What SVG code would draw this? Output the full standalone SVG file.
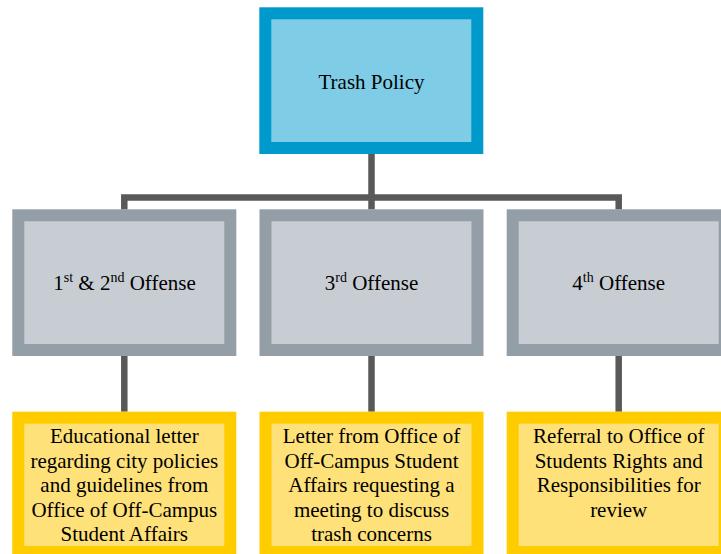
<svg xmlns="http://www.w3.org/2000/svg" width="721" height="554" viewBox="0 0 721 554">
<style>
  .t { font-size: 21px; fill: #000; text-anchor: middle; }
  .conn { fill: none; stroke: #595959; stroke-width: 6.5; stroke-linejoin: miter; }
  .top { fill: #7FCCE6; stroke: #0099CC; stroke-width: 12; }
  .mid { fill: #C8CDD4; stroke: #949EA7; stroke-width: 12; }
  .bot { fill: #FFE17A; stroke: #FFCC00; stroke-width: 12; }
  .sup { font-size: 14px; }
</style>
<rect width="721" height="554" fill="#fff"/>
<g id="connectors">
  <path class="conn" d="M371.5,154 V209.5"/>
  <path class="conn" d="M124.3,209.5 V197.5 H618.7 V209.5"/>
  <path class="conn" d="M124.3,356 V411.7"/>
  <path class="conn" d="M371.5,356 V411.7"/>
  <path class="conn" d="M618.7,356 V411.7"/>
</g>
<g id="trash-policy">
  <rect class="top" x="265.3" y="13.3" width="212" height="134.7"/>
  <text class="t" font-family="Liberation Serif" x="371.5" y="89">Trash Policy</text>
</g>
<g id="offense-1-2">
  <rect class="mid" x="18.3" y="215.3" width="212" height="134.7"/>
  <text class="t" font-family="Liberation Serif" x="124.5" y="290">1<tspan class="sup" dy="-8">st</tspan><tspan dy="8"> &amp; 2</tspan><tspan class="sup" dy="-8">nd</tspan><tspan dy="8"> Offense</tspan></text>
</g>
<g id="offense-3">
  <rect class="mid" x="265.5" y="215.3" width="212" height="134.7"/>
  <text class="t" font-family="Liberation Serif" x="371.5" y="290">3<tspan class="sup" dy="-8">rd</tspan><tspan dy="8"> Offense</tspan></text>
</g>
<g id="offense-4">
  <rect class="mid" x="512.7" y="215.3" width="212" height="134.7"/>
  <text class="t" font-family="Liberation Serif" x="618.7" y="290">4<tspan class="sup" dy="-8">th</tspan><tspan dy="8"> Offense</tspan></text>
</g>
<g id="result-1">
  <rect class="bot" x="18.3" y="417.7" width="212" height="134.3"/>
  <text class="t" font-family="Liberation Serif" x="124.3" y="443.3">Educational letter</text>
  <text class="t" font-family="Liberation Serif" x="124.3" y="467.7">regarding city policies</text>
  <text class="t" font-family="Liberation Serif" x="124.3" y="492.1">and guidelines from</text>
  <text class="t" font-family="Liberation Serif" x="124.3" y="516.5">Office of Off-Campus</text>
  <text class="t" font-family="Liberation Serif" x="124.3" y="540.9">Student Affairs</text>
</g>
<g id="result-2">
  <rect class="bot" x="265.5" y="417.7" width="212" height="134.3"/>
  <text class="t" font-family="Liberation Serif" x="371.5" y="443.3">Letter from Office of</text>
  <text class="t" font-family="Liberation Serif" x="371.5" y="467.7">Off-Campus Student</text>
  <text class="t" font-family="Liberation Serif" x="371.5" y="492.1">Affairs requesting a</text>
  <text class="t" font-family="Liberation Serif" x="371.5" y="516.5">meeting to discuss</text>
  <text class="t" font-family="Liberation Serif" x="371.5" y="540.9">trash concerns</text>
</g>
<g id="result-3">
  <rect class="bot" x="512.7" y="417.7" width="212" height="134.3"/>
  <text class="t" font-family="Liberation Serif" x="618.7" y="443.3">Referral to Office of</text>
  <text class="t" font-family="Liberation Serif" x="618.7" y="467.7">Students Rights and</text>
  <text class="t" font-family="Liberation Serif" x="618.7" y="492.1">Responsibilities for</text>
  <text class="t" font-family="Liberation Serif" x="618.7" y="516.5">review</text>
</g>
</svg>
